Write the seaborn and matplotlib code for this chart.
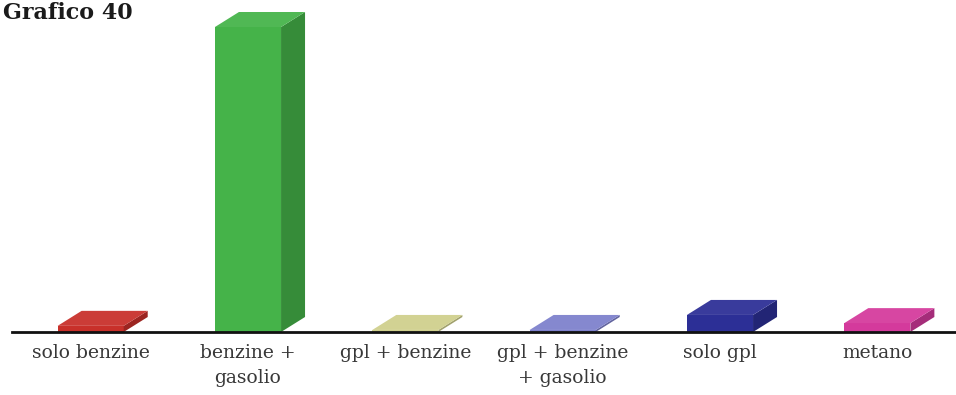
import numpy as np
import pandas as pd
import matplotlib
matplotlib.use("Agg")
import matplotlib.pyplot as plt
import seaborn as sns
from matplotlib.patches import Polygon
import matplotlib.colors as mcolors

# ---- data ----
categories = ["solo benzine", "benzine +\ngasolio", "gpl + benzine",
              "gpl + benzine\n+ gasolio", "solo gpl", "metano"]
values = [1.8, 89.4, 0.6, 0.6, 5.0, 2.6]
colors = ["#c8302a", "#45b349", "#cfcf8c", "#7d80cc", "#2c2f96", "#d43a9c"]
title = "Grafico 40"

sns.set_theme(style="white")
plt.rcParams['font.family'] = ['DejaVu Serif']

W, H = 956, 395
fig = plt.figure(figsize=(W / 100, H / 100), dpi=100)
ax_left, ax_right, ax_bottom = 12, 956, 332
ax = fig.add_axes([ax_left / W, (H - ax_bottom) / H, (ax_right - ax_left) / W, ax_bottom / H])

df = pd.DataFrame({"cat": categories, "val": values})
sns.barplot(data=df, x="cat", y="val", hue="cat", palette=colors, width=0.42,
            saturation=1, legend=False, ax=ax, order=categories, hue_order=categories)

ymax = values[1] * ax_bottom / 305.0
ax.set_ylim(0, ymax)
ax.set_xlim(-0.5, len(categories) - 0.5)

# 3D depth offsets in data units
dx_px, dy_px = 24, 15
px_per_x = (ax_right - ax_left) / len(categories)
px_per_y = ax_bottom / ymax
ddx = dx_px / px_per_x
ddy = dy_px / px_per_y

def shade(c, f):
    r, g, b = mcolors.to_rgb(c)
    if f < 1:
        return (r * f, g * f, b * f)
    return (r + (1 - r) * (f - 1), g + (1 - g) * (f - 1), b + (1 - b) * (f - 1))

for p, c in zip(ax.patches, colors):
    x0 = p.get_x()
    w = p.get_width()
    h = p.get_height()
    p.set_edgecolor("none")
    top = Polygon([(x0, h), (x0 + w, h), (x0 + w + ddx, h + ddy), (x0 + ddx, h + ddy)],
                  closed=True, facecolor=shade(c, 1.06), edgecolor="none", clip_on=False)
    side = Polygon([(x0 + w, 0), (x0 + w + ddx, ddy), (x0 + w + ddx, h + ddy), (x0 + w, h)],
                   closed=True, facecolor=shade(c, 0.78), edgecolor="none", clip_on=False)
    ax.add_patch(side)
    ax.add_patch(top)

# axes styling
for s in ["left", "top", "right"]:
    ax.spines[s].set_visible(False)
ax.spines["bottom"].set_color("#111111")
ax.spines["bottom"].set_linewidth(2)
ax.set_yticks([])
ax.set_xlabel("")
ax.set_ylabel("")
ax.set_xticks(range(len(categories)))
ax.set_xticklabels(categories, fontsize=13.5, color="#383838", linespacing=1.45)
ax.tick_params(axis="x", which="major", length=0, pad=9)
ax.set_xticks(np.arange(-0.5, len(categories) - 1, 1.0), minor=True)
ax.tick_params(axis="x", which="minor", length=7, width=2, color="#111111", direction="out")

fig.text(3 / W, 1 - 19 / H, title, fontsize=16, fontweight="bold", color="#1a1a1a",
         va="baseline", ha="left")

fig.savefig("out.png", dpi=100)
